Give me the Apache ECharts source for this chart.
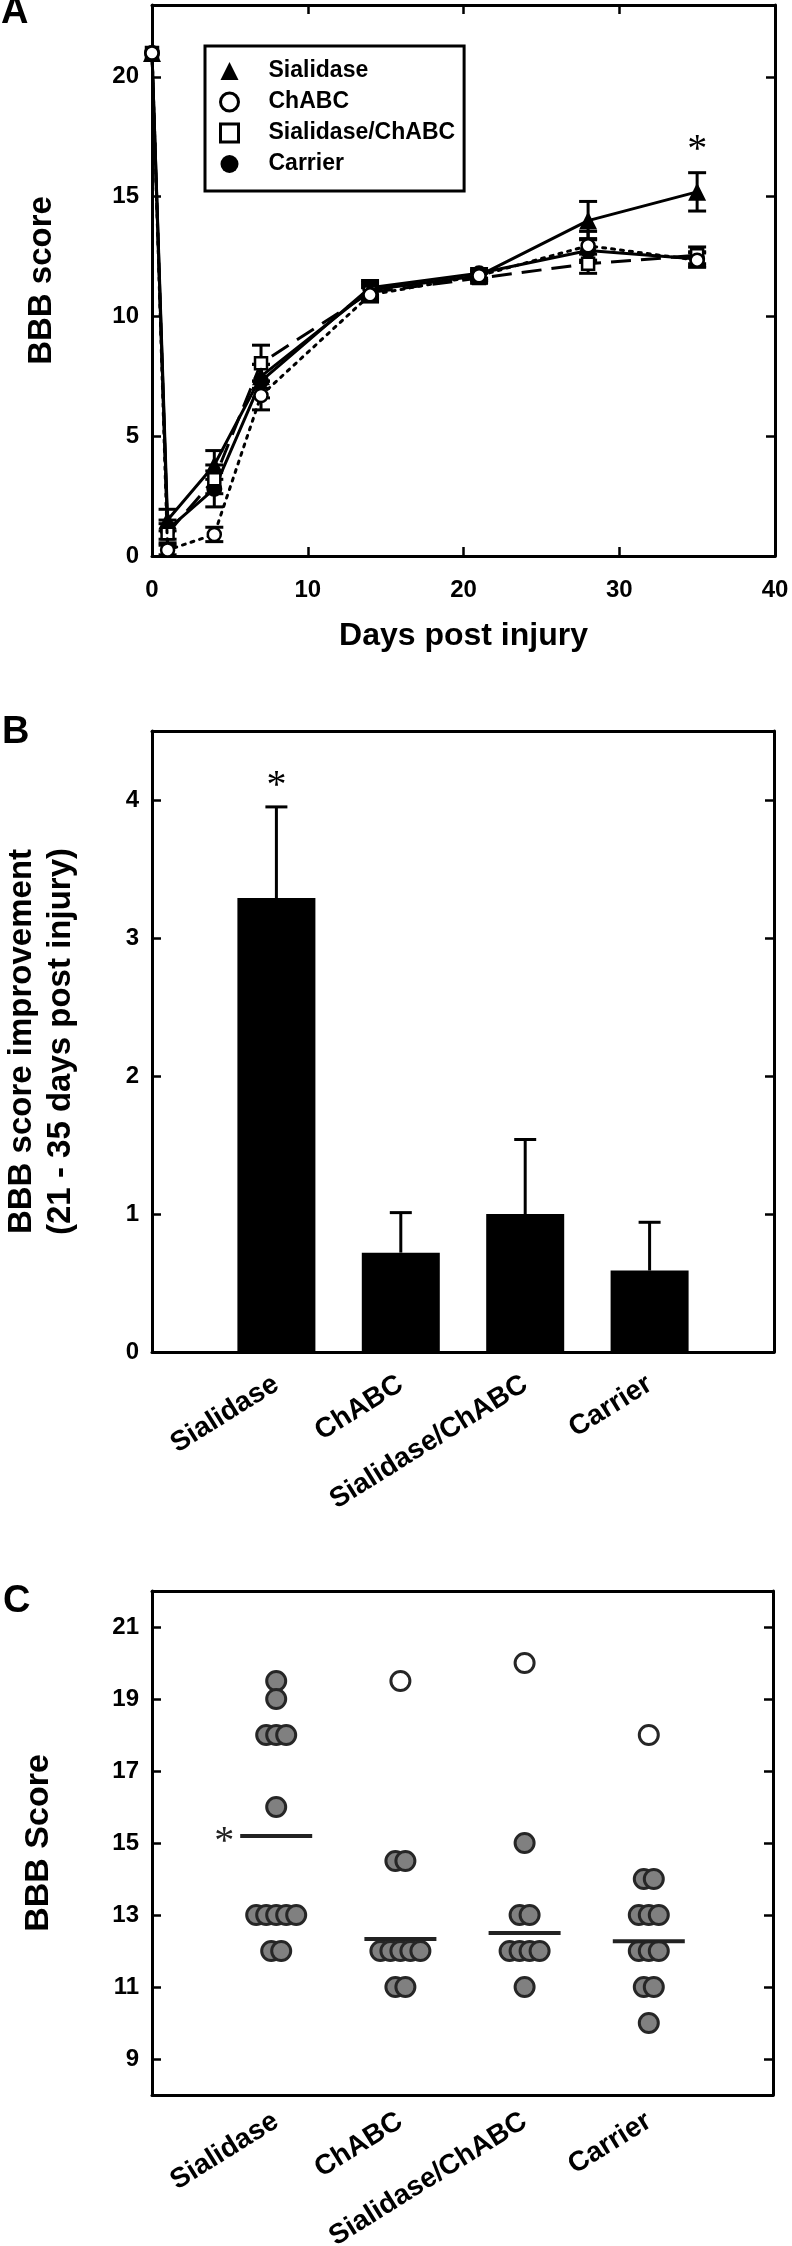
<!DOCTYPE html>
<html><head><meta charset="utf-8">
<script src="https://cdn.jsdelivr.net/npm/echarts@6.0.0/dist/echarts.min.js"></script>
<style>html,body{margin:0;padding:0;background:#fff}#c{width:792px;height:2246px}</style>
</head><body><div id="c"></div>
<script>
// ---------- Panel A: BBB score over time ----------
const daysA = [0, 1, 4, 7, 14, 21, 28, 35];
const sialidaseA = [21, 1.5, 3.8, 7.5, 11.1, 11.7, 14.0, 15.2];
const sialidaseSE = [0, 0.45, 0.6, 0.5, 0.3, 0.2, 0.8, 0.8];
const chabcA = [21, 0.25, 0.9, 6.7, 10.9, 11.7, 12.95, 12.35];
const chabcSE = [0, 0.2, 0.3, 0.6, 0.3, 0.2, 0.6, 0.3];
const sialChabcA = [21, 0.95, 3.2, 8.05, 11.0, 11.6, 12.2, 12.55];
const sialChabcSE = [0, 0.4, 0.6, 0.75, 0.3, 0.2, 0.4, 0.35];
const carrierA = [21, 1.1, 2.8, 7.3, 11.2, 11.8, 12.75, 12.4];
const carrierSE = [0, 0.4, 0.75, 0.7, 0.3, 0.2, 0.5, 0.3];

// ---------- Panel B: improvement 21-35 dpi ----------
const groups = ['Sialidase', 'ChABC', 'Sialidase/ChABC', 'Carrier'];
const improvement = [3.29, 0.72, 1.0, 0.59];
const improvementSE = [0.66, 0.29, 0.54, 0.35];

// ---------- Panel C: individual BBB scores at 35 dpi ----------
const sialidaseC = [19.5, 19, 18, 18, 18, 16, 13, 13, 13, 13, 13, 12, 12];
const chabcC = [14.5, 14.5, 12, 12, 12, 12, 12, 11, 11];
const sialChabcC = [15, 13, 13, 12, 12, 12, 12, 11];
const carrierC = [14, 14, 13, 13, 13, 12, 12, 12, 11, 11, 10];
const sialidaseOpenC = [];
const chabcOpenC = [19.5];
const sialChabcOpenC = [20];
const carrierOpenC = [18];
const yTicksC = [9, 11, 13, 15, 17, 19, 21];

const FONT = '"Liberation Sans", Arial, Helvetica, sans-serif';
const BLACK = '#000';

function lineAxis(extra) {
  const base = {
    axisLine: {show: true, onZero: false, lineStyle: {color: BLACK, width: 3}},
    axisTick: {show: true, inside: true, length: 9, lineStyle: {color: BLACK, width: 2.5}},
    splitLine: {show: false},
    axisLabel: {color: BLACK, fontSize: 24, fontWeight: 'bold', fontFamily: FONT},
    nameTextStyle: {color: BLACK, fontWeight: 'bold', fontFamily: FONT},
    nameMoveOverlap: false
  };
  const out = Object.assign({}, base, extra);
  ['axisLine', 'axisTick', 'axisLabel', 'nameTextStyle'].forEach(k => {
    if (extra[k]) out[k] = Object.assign({}, base[k], extra[k]);
  });
  return out;
}

function errorBars(xs, means, ses, xi, yi, capHalf, upOnly) {
  return {
    type: 'custom', xAxisIndex: xi, yAxisIndex: yi, z: 1, silent: true,
    data: xs.map((x, i) => [x, means[i], ses[i]]),
    renderItem: function (params, api) {
      const x = api.value(0), m = api.value(1), e = api.value(2);
      if (!e) return null;
      const top = api.coord([x, m + e]);
      const bot = api.coord([x, upOnly ? m : m - e]);
      const st = {stroke: BLACK, lineWidth: 3};
      const ch = [
        {type: 'line', shape: {x1: top[0], y1: top[1], x2: bot[0], y2: bot[1]}, style: st},
        {type: 'line', shape: {x1: top[0] - capHalf, y1: top[1], x2: top[0] + capHalf, y2: top[1]}, style: st}
      ];
      if (!upOnly) ch.push({type: 'line', shape: {x1: bot[0] - capHalf, y1: bot[1], x2: bot[0] + capHalf, y2: bot[1]}, style: st});
      return {type: 'group', children: ch};
    }
  };
}

function pairs(xs, ys) { return xs.map((x, i) => [x, ys[i]]); }

function swarm(values, gi, step) {
  const counts = {}, seen = {};
  values.forEach(v => { counts[v] = (counts[v] || 0) + 1; });
  return values.map(v => {
    const n = counts[v];
    const j = seen[v] = (seen[v] === undefined ? 0 : seen[v] + 1);
    return {value: [gi + 1, v], symbolOffset: [(j - (n - 1) / 2) * step, 0]};
  });
}
function mean(a) { return a.reduce((s, v) => s + v, 0) / a.length; }

const filledC = [sialidaseC, chabcC, sialChabcC, carrierC];
const openC = [sialidaseOpenC, chabcOpenC, sialChabcOpenC, carrierOpenC];
const sigC = [true, false, false, false];
const sigB = [true, false, false, false];

const gridA = {left: 152, top: 5, width: 623, height: 551};
const gridB = {left: 152, top: 731, width: 622, height: 621};
const gridC = {left: 152, top: 1591, width: 621, height: 504};

const chart = echarts.init(document.getElementById('c'), null, {renderer: 'canvas'});

const lineStyleBase = {color: BLACK, width: 3};
const STAR_FONT = '40px "Liberation Serif", serif';

const option = {
  backgroundColor: '#fff',
  animation: false,
  textStyle: {fontFamily: FONT},
  grid: [gridA, gridB, gridC].map(g => Object.assign({outerBoundsMode: 'none', containLabel: false}, g)),
  legend: {
    show: true, selectedMode: false,
    orient: 'vertical', left: 205, top: 46,
    padding: [13, 9, 15, 14],
    borderColor: BLACK, borderWidth: 3, borderRadius: 0,
    itemWidth: 18, itemHeight: 18, itemGap: 7,
    textStyle: {color: BLACK, fontSize: 23, fontWeight: 'bold', fontFamily: FONT, lineHeight: 24, padding: [0, 0, 0, 25]},
    data: [
      {name: 'Sialidase', icon: 'triangle', itemStyle: {color: BLACK, borderWidth: 0}},
      {name: 'ChABC', icon: 'circle', itemStyle: {color: '#fff', borderColor: BLACK, borderWidth: 3}},
      {name: 'Sialidase/ChABC', icon: 'rect', itemStyle: {color: '#fff', borderColor: BLACK, borderWidth: 3}},
      {name: 'Carrier', icon: 'circle', itemStyle: {color: BLACK, borderWidth: 0}}
    ]
  },
  xAxis: [
    lineAxis({gridIndex: 0, type: 'value', position: 'bottom', min: 0, max: 40, interval: 10,
      name: 'Days post injury', nameLocation: 'middle', nameGap: 64,
      nameTextStyle: {fontSize: 32}, axisLabel: {margin: 22}}),
    lineAxis({gridIndex: 0, type: 'value', position: 'top', min: 0, max: 40, interval: 10, axisLabel: {show: false}}),
    lineAxis({gridIndex: 1, type: 'value', position: 'bottom', min: 0, max: 5, interval: 1,
      axisTick: {show: false},
      axisLabel: {rotate: 32, margin: 30, fontSize: 28, formatter: v => groups[v - 1] || ''}}),
    lineAxis({gridIndex: 1, type: 'value', position: 'top', min: 0, max: 5, interval: 1, axisTick: {show: false}, axisLabel: {show: false}}),
    lineAxis({gridIndex: 2, type: 'value', position: 'bottom', min: 0, max: 5, interval: 1,
      axisTick: {show: false},
      axisLabel: {rotate: 32, margin: 24, fontSize: 28, formatter: v => groups[v - 1] || ''}}),
    lineAxis({gridIndex: 2, type: 'value', position: 'top', min: 0, max: 5, interval: 1, axisTick: {show: false}, axisLabel: {show: false}})
  ],
  yAxis: [
    lineAxis({gridIndex: 0, type: 'value', position: 'left', min: 0, max: 23, interval: 5,
      name: 'BBB score', nameLocation: 'middle', nameRotate: 90, nameGap: 94,
      nameTextStyle: {fontSize: 33}, axisLabel: {margin: 13, showMaxLabel: false}}),
    lineAxis({gridIndex: 0, type: 'value', position: 'right', min: 0, max: 23, interval: 5, axisLabel: {show: false}}),
    lineAxis({gridIndex: 1, type: 'value', position: 'left', min: 0, max: 4.5, interval: 1,
      name: 'BBB score improvement\n(21 - 35 days post injury)', nameLocation: 'middle', nameRotate: 90, nameGap: 72,
      nameTextStyle: {fontSize: 33, lineHeight: 39}, axisLabel: {margin: 13, showMaxLabel: false}}),
    lineAxis({gridIndex: 1, type: 'value', position: 'right', min: 0, max: 4.5, interval: 1, axisLabel: {show: false}}),
    lineAxis({gridIndex: 2, type: 'value', position: 'left', min: 8, max: 22,
      name: 'BBB Score', nameLocation: 'middle', nameRotate: 90, nameGap: 96,
      nameTextStyle: {fontSize: 34},
      axisTick: {customValues: yTicksC}, axisLabel: {margin: 13, customValues: yTicksC}}),
    lineAxis({gridIndex: 2, type: 'value', position: 'right', min: 8, max: 22,
      axisTick: {customValues: yTicksC}, axisLabel: {show: false}})
  ],
  graphic: [
    {type: 'text', left: 1, top: -6, style: {text: 'A', font: 'bold 38px ' + FONT, fill: BLACK}},
    {type: 'text', left: 2, top: 714, style: {text: 'B', font: 'bold 38px ' + FONT, fill: BLACK}},
    {type: 'text', left: 3, top: 1583, style: {text: 'C', font: 'bold 38px ' + FONT, fill: BLACK}}
  ],
  series: [
    // Panel A error bars
    errorBars(daysA, carrierA, carrierSE, 0, 0, 9, false),
    errorBars(daysA, sialChabcA, sialChabcSE, 0, 0, 9, false),
    errorBars(daysA, sialidaseA, sialidaseSE, 0, 0, 9, false),
    errorBars(daysA, chabcA, chabcSE, 0, 0, 9, false),
    // Panel A lines
    {name: 'Carrier', type: 'line', xAxisIndex: 0, yAxisIndex: 0, z: 2, data: pairs(daysA, carrierA),
      symbol: 'circle', symbolSize: 16, lineStyle: Object.assign({}, lineStyleBase),
      itemStyle: {color: BLACK}},
    {name: 'Sialidase/ChABC', type: 'line', xAxisIndex: 0, yAxisIndex: 0, z: 3, data: pairs(daysA, sialChabcA),
      symbol: 'rect', symbolSize: 12, lineStyle: Object.assign({type: [20, 10]}, lineStyleBase),
      itemStyle: {color: '#fff', borderColor: BLACK, borderWidth: 2.5}},
    {name: 'Sialidase', type: 'line', xAxisIndex: 0, yAxisIndex: 0, z: 4, data: pairs(daysA, sialidaseA),
      symbol: 'triangle', symbolSize: 18, lineStyle: Object.assign({}, lineStyleBase),
      itemStyle: {color: BLACK}},
    {name: 'ChABC', type: 'line', xAxisIndex: 0, yAxisIndex: 0, z: 5, data: pairs(daysA, chabcA),
      symbol: 'circle', symbolSize: 13, lineStyle: Object.assign({type: [3, 6], cap: 'round'}, lineStyleBase),
      itemStyle: {color: '#fff', borderColor: BLACK, borderWidth: 2.5}},
    // Panel A significance
    {type: 'custom', xAxisIndex: 0, yAxisIndex: 0, z: 6, silent: true,
      data: [[daysA[7], sialidaseA[7] + sialidaseSE[7]]],
      renderItem: (p, api) => {
        const pt = api.coord([api.value(0), api.value(1)]);
        return {type: 'text', x: pt[0], y: pt[1] - 22, style: {text: '*', font: STAR_FONT, fill: BLACK, align: 'center', verticalAlign: 'middle'}};
      }},
    // Panel B bars
    {type: 'bar', xAxisIndex: 2, yAxisIndex: 2, barWidth: 78, z: 2,
      data: groups.map((g, i) => [i + 1, improvement[i]]), itemStyle: {color: BLACK}},
    Object.assign(errorBars(groups.map((g, i) => i + 1), improvement, improvementSE, 2, 2, 11, true), {z: 1}),
    {type: 'custom', xAxisIndex: 2, yAxisIndex: 2, z: 6, silent: true,
      data: groups.map((g, i) => [i + 1, improvement[i] + improvementSE[i], sigB[i] ? 1 : 0]),
      renderItem: (p, api) => {
        if (!api.value(2)) return null;
        const pt = api.coord([api.value(0), api.value(1)]);
        return {type: 'text', x: pt[0], y: pt[1] - 20, style: {text: '*', font: STAR_FONT, fill: BLACK, align: 'center', verticalAlign: 'middle'}};
      }},
    // Panel C dots
    ...filledC.map((vals, gi) => ({
      type: 'scatter', xAxisIndex: 4, yAxisIndex: 4, z: 3, symbol: 'circle', symbolSize: 19,
      itemStyle: {color: '#808080', borderColor: '#262626', borderWidth: 3, opacity: 1},
      data: swarm(vals, gi, 10)
    })),
    ...openC.map((vals, gi) => ({
      type: 'scatter', xAxisIndex: 4, yAxisIndex: 4, z: 3, symbol: 'circle', symbolSize: 19,
      itemStyle: {color: '#fff', borderColor: '#262626', borderWidth: 3, opacity: 1},
      data: swarm(vals, gi, 10)
    })),
    // Panel C mean lines
    {type: 'custom', xAxisIndex: 4, yAxisIndex: 4, z: 4, silent: true,
      data: filledC.map((vals, gi) => [gi + 1, mean(vals), sigC[gi] ? 1 : 0]),
      renderItem: (p, api) => {
        const pt = api.coord([api.value(0), api.value(1)]);
        const ch = [{type: 'line', shape: {x1: pt[0] - 36, y1: pt[1], x2: pt[0] + 36, y2: pt[1]}, style: {stroke: '#222', lineWidth: 4}}];
        if (api.value(2)) ch.push({type: 'text', x: pt[0] - 52, y: pt[1] + 6, style: {text: '*', font: STAR_FONT, fill: '#222', align: 'center', verticalAlign: 'middle'}});
        return {type: 'group', children: ch};
      }}
  ]
};
chart.setOption(option);
</script></body></html>
